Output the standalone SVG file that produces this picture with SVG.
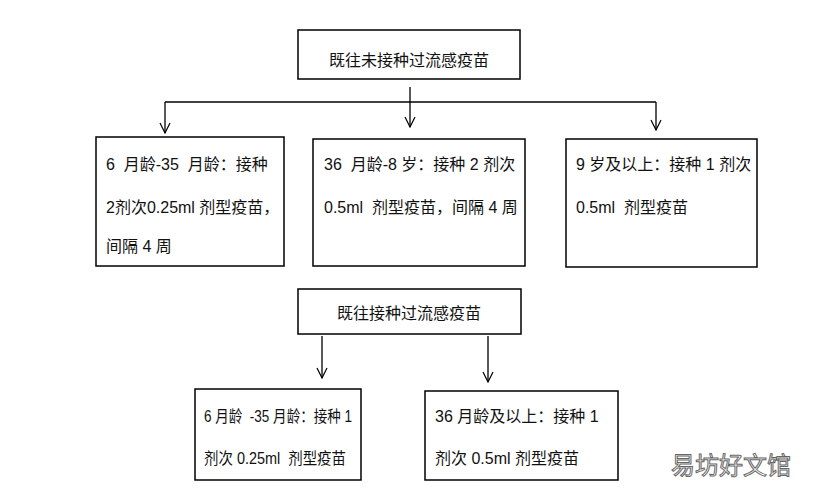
<svg xmlns="http://www.w3.org/2000/svg" width="815" height="497" viewBox="0 0 815 497">
<defs>
<marker id="ah" markerWidth="12" markerHeight="12" refX="11" refY="6" orient="auto" markerUnits="userSpaceOnUse" viewBox="0 0 12 12"><path d="M1,1 L11,6 L1,11" fill="none" stroke="#000" stroke-width="1.2"/></marker>
<style>
.b{fill:#fff;stroke:#000;stroke-width:1.5}
.t{font-family:"Liberation Sans","Noto Sans CJK SC",sans-serif;font-size:16px;fill:#111;white-space:pre}
.c{stroke:#000;stroke-width:1.3;fill:none}
</style>
</defs>
<rect width="815" height="497" fill="#fff"/>
<g id="connectors">
<line class="c" x1="410" y1="87" x2="410" y2="127" marker-end="url(#ah)"/>
<line class="c" x1="165" y1="102" x2="656" y2="102"/>
<line class="c" x1="165" y1="102" x2="165" y2="133" marker-end="url(#ah)"/>
<line class="c" x1="656" y1="102" x2="656" y2="130" marker-end="url(#ah)"/>
<line class="c" x1="322" y1="336" x2="322" y2="378" marker-end="url(#ah)"/>
<line class="c" x1="488" y1="336" x2="488" y2="382" marker-end="url(#ah)"/>
</g>
<g id="n1"><rect class="b" x="298" y="30" width="222" height="49"/><text class="t" x="409" y="66" text-anchor="middle">既往未接种过流感疫苗</text></g>
<g id="n2"><rect class="b" x="96" y="137" width="188" height="129"/>
<text class="t" x="106" y="170" xml:space="preserve">6  月龄-35  月龄：接种</text>
<text class="t" x="106" y="213">2剂次0.25ml 剂型疫苗，</text>
<text class="t" x="106" y="252">间隔 4 周</text></g>
<g id="n3"><rect class="b" x="313" y="139" width="212" height="127"/>
<text class="t" x="324" y="170" xml:space="preserve">36  月龄-8 岁：接种 2 剂次</text>
<text class="t" x="324" y="213" xml:space="preserve">0.5ml  剂型疫苗，间隔 4 周</text></g>
<g id="n4"><rect class="b" x="566" y="139" width="191" height="128"/>
<text class="t" x="576" y="170">9 岁及以上：接种 1 剂次</text>
<text class="t" x="576" y="213" xml:space="preserve">0.5ml  剂型疫苗</text></g>
<g id="n5"><rect class="b" x="298" y="289" width="223" height="45"/><text class="t" x="409" y="319" text-anchor="middle">既往接种过流感疫苗</text></g>
<g id="n6"><rect class="b" x="195" y="389" width="166" height="91"/>
<text class="t" x="204" y="422" xml:space="preserve" textLength="148" lengthAdjust="spacingAndGlyphs">6 月龄  -35 月龄：接种 1</text>
<text class="t" x="204" y="464" xml:space="preserve" textLength="142" lengthAdjust="spacingAndGlyphs">剂次 0.25ml  剂型疫苗</text></g>
<g id="n7"><rect class="b" x="425" y="391" width="193" height="89"/>
<text class="t" x="435" y="422">36 月龄及以上：接种 1</text>
<text class="t" x="435" y="464">剂次 0.5ml 剂型疫苗</text></g>
<text x="731" y="474" text-anchor="middle" style="font-family:'Noto Sans CJK SC',sans-serif;font-size:24px;fill:#fff;stroke:#666;stroke-width:1">易坊好文馆</text>
</svg>
